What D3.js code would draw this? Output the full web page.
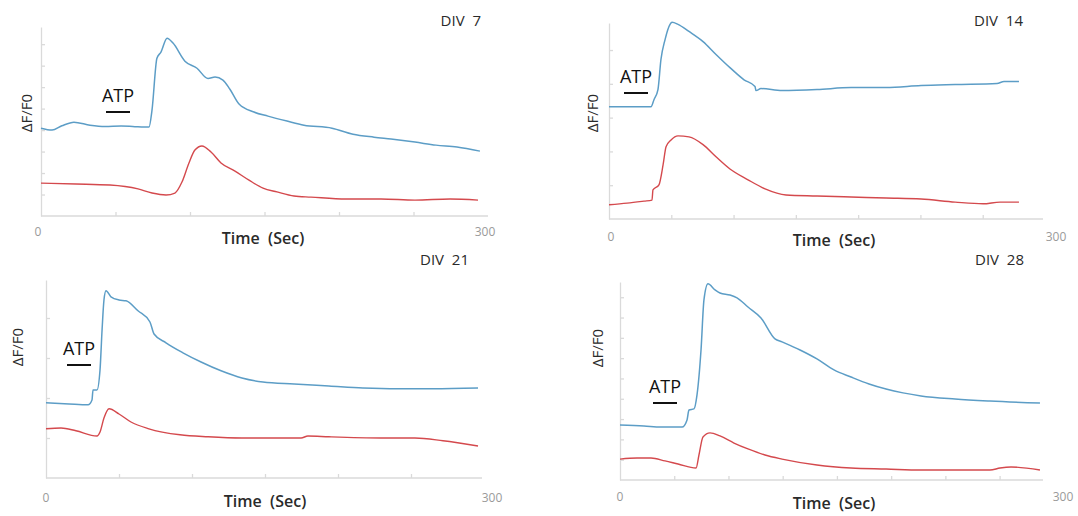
<!DOCTYPE html>
<html>
<head>
<meta charset="utf-8">
<script src="https://cdn.jsdelivr.net/npm/d3@7"></script>
<style>
  body { margin: 0; background: #fff; }
  svg { display: block; }
</style>
</head>
<body>
<script>
// traces: [time (s), dF/F0]
const div7Blue = [[0,4.09],[7.4,4.0],[14,4.2],[22.1,4.37],[32.9,4.23],[43,4.17],[53.7,4.19],[63,4.16],[72.5,4.14],[74.5,4.93],[77.8,7.35],[80.5,7.63],[84.6,8.28],[88.6,8.05],[96.6,7.21],[104.7,6.88],[112.1,6.4],[116.8,6.47],[122.1,6.33],[126.8,5.9],[132.9,5.21],[142.9,4.84],[152.3,4.65],[165.1,4.42],[176.5,4.23],[195.3,4.09],[209.4,3.81],[223.5,3.67],[234.9,3.58],[251,3.44],[265.1,3.3],[279.2,3.21],[294.6,3.02]];
const div7Red = [[0,1.53],[23.5,1.49],[46.3,1.44],[65.1,1.26],[74.5,1.07],[83.9,0.98],[89.9,1.07],[94.6,1.58],[99.3,2.47],[103.3,3.07],[108,3.26],[114.1,2.98],[120.8,2.47],[130.2,2.09],[139.6,1.67],[149,1.3],[158.4,1.12],[169.8,0.93],[181.2,0.88],[204.7,0.79],[228.2,0.79],[251,0.74],[274.5,0.79],[293.3,0.74]];

const div14Blue = [[0,3.32],[16.9,3.32],[33.7,3.32],[36.1,3.53],[39.3,3.83],[41.7,4.72],[45,5.31],[49,5.76],[50.6,5.82],[55.4,5.76],[64.2,5.55],[75.5,5.25],[85.9,4.87],[97.1,4.48],[108.4,4.12],[117.2,3.92],[118,3.8],[122,3.86],[138.9,3.8],[167,3.83],[194.3,3.89],[222.4,3.89],[250.5,3.95],[277.8,3.98],[311.5,4.01],[317.1,4.07],[329.1,4.07]];
const div14Red = [[0,0.42],[14.5,0.47],[28.1,0.53],[34.5,0.56],[35.3,0.86],[40.1,1.01],[43.4,1.6],[45.8,2.14],[49.8,2.34],[55.4,2.46],[64.2,2.43],[75.5,2.2],[85.9,1.84],[97.1,1.48],[111.6,1.16],[125.3,0.89],[142.1,0.71],[167,0.68],[194.3,0.65],[222.4,0.62],[250.5,0.59],[277.8,0.5],[300.2,0.45],[313.9,0.5],[329.1,0.5]];

const div21Blue = [[0,1.88],[15.8,1.85],[28.8,1.83],[31.5,1.95],[32.2,2.2],[34.9,2.2],[37,2.7],[38.4,3.7],[39.7,4.45],[41.1,4.68],[44.5,4.53],[50,4.45],[54.8,4.43],[63,4.18],[71.2,3.9],[74,3.6],[82.2,3.38],[93.8,3.13],[106.2,2.9],[119.9,2.68],[134.2,2.5],[148.6,2.4],[169.9,2.35],[193.8,2.3],[217.1,2.25],[241.1,2.23],[265.1,2.23],[295.9,2.25]];
const div21Red = [[0,1.23],[10.3,1.25],[20.5,1.18],[34.9,1.05],[37,1.15],[39.7,1.5],[43.2,1.73],[50,1.6],[58.2,1.4],[70.5,1.23],[91.8,1.08],[111,1.03],[134.2,1.0],[158.2,1.0],[174.7,1.0],[179.4,1.05],[193.8,1.03],[229.4,1.0],[252.7,1.0],[271.9,0.93],[295.9,0.8]];

const div28Blue = [[0,2.71],[22.1,2.66],[37.8,2.61],[57.2,2.61],[61.8,2.96],[63.6,3.45],[68.2,3.5],[71,4.19],[74.7,6.4],[77.4,8.87],[81.1,9.66],[87.6,9.36],[92.2,9.21],[101.4,9.11],[107.9,8.97],[118,8.52],[130,7.98],[142.9,6.95],[149.4,6.8],[166,6.4],[181.6,5.96],[197.3,5.42],[213,5.07],[229.6,4.73],[245.3,4.48],[260.9,4.29],[277.5,4.14],[308.9,3.99],[341.1,3.89],[387.2,3.79]];
const div28Red = [[0,1.03],[15.7,1.08],[28.6,1.08],[41.5,0.94],[53.5,0.79],[70.1,0.59],[72.8,1.23],[76.5,2.12],[83,2.32],[92.2,2.17],[105.1,1.82],[118,1.53],[133.7,1.23],[149.4,1.03],[181.6,0.74],[213,0.59],[245.3,0.54],[277.5,0.49],[308.9,0.49],[341.1,0.49],[350.4,0.59],[360.5,0.64],[387.2,0.49]];

const panelTitles = ['DIV  7', 'DIV  14', 'DIV  21', 'DIV  28'];
const xMax = [300, 350, 300, 390];
const yMax = [8.8, 5.8, 4.95, 9.75];
const yTicks = [[1,2,3,4,5,6,7,8], [1,2,3,4,5], [1,2,3,4], [1,2,3,4,5,6,7,8,9]];
const xTickStep = 50;

// layout of each panel in the page
const boxes = [
  {x0: 41, x1: 488, y0: 216, y1: 27, xEnd: 488, title: [481, 22], ylab: [28, 113], atp: [118, 102], time: [263, 244], lab0: 38, lab300: 485, labY: 236},
  {x0: 609, x1: 1045, y0: 219, y1: 23, xEnd: 1043, title: [1023, 22], ylab: [594, 113], atp: [636, 83], time: [834, 246], lab0: 611, lab300: 1056, labY: 241},
  {x0: 46, x1: 484, y0: 478, y1: 280, xEnd: 482, title: [469, 261], ylab: [19, 347], atp: [79, 355], time: [265, 507], lab0: 46, lab300: 492, labY: 502},
  {x0: 620, x1: 1043, y0: 480, y1: 282, xEnd: 1043, title: [1024, 261], ylab: [599, 348], atp: [665, 393], time: [834, 509], lab0: 620, lab300: 1063, labY: 501}
];

const blues = [div7Blue, div14Blue, div21Blue, div28Blue];
const reds = [div7Red, div14Red, div21Red, div28Red];

const svg = d3.select('body').append('svg')
    .attr('width', 1078)
    .attr('height', 516)
    .attr('font-family', 'Open Sans, sans-serif');

boxes.forEach((b, i) => {
  const x = d3.scaleLinear().domain([0, xMax[i]]).range([b.x0, b.x1]);
  const y = d3.scaleLinear().domain([0, yMax[i]]).range([b.y0, b.y1]);
  const g = svg.append('g');

  const xTicks = d3.range(xTickStep, xMax[i], xTickStep);

  g.append('g')
      .attr('transform', `translate(0,${b.y0})`)
      .call(d3.axisBottom(x).tickValues(xTicks).tickFormat('').tickSizeInner(-4).tickSizeOuter(0))
      .call(a => a.select('.domain').attr('d', `M${b.x0},0H${b.xEnd}`));

  g.append('g')
      .attr('transform', `translate(${b.x0},0)`)
      .call(d3.axisLeft(y).tickValues(yTicks[i]).tickFormat('').tickSizeInner(-4).tickSizeOuter(0));

  g.selectAll('.domain, .tick line').attr('stroke', '#dadada').attr('stroke-width', 1.3);

  const line = d3.line().curve(d3.curveMonotoneX).x(d => x(d[0])).y(d => y(d[1]));

  g.append('path')
      .datum(blues[i])
      .attr('fill', 'none')
      .attr('stroke', '#5c9dc6')
      .attr('stroke-width', 1.5)
      .attr('stroke-linejoin', 'round')
      .attr('d', line);

  g.append('path')
      .datum(reds[i])
      .attr('fill', 'none')
      .attr('stroke', '#d4494d')
      .attr('stroke-width', 1.4)
      .attr('stroke-linejoin', 'round')
      .attr('d', line);

  g.append('text')
      .attr('x', b.title[0]).attr('y', b.title[1])
      .attr('text-anchor', 'end')
      .attr('dominant-baseline', 'middle')
      .attr('font-size', 15)
      .attr('fill', '#2a2a2a')
      .style('white-space', 'pre')
      .text(panelTitles[i]);

  g.append('text')
      .attr('transform', `translate(${b.ylab[0]},${b.ylab[1]}) rotate(-90)`)
      .attr('text-anchor', 'middle')
      .attr('dominant-baseline', 'middle')
      .attr('font-size', 15)
      .attr('fill', '#2a2a2a')
      .text('ΔF/F0');

  g.append('text')
      .attr('x', b.atp[0]).attr('y', b.atp[1])
      .attr('text-anchor', 'middle')
      .attr('font-size', 18)
      .attr('fill', '#111')
      .text('ATP');

  g.append('line')
      .attr('x1', b.atp[0] - 12).attr('x2', b.atp[0] + 12)
      .attr('y1', b.atp[1] + 10).attr('y2', b.atp[1] + 10)
      .attr('stroke', '#111')
      .attr('stroke-width', 2);

  g.append('text')
      .attr('x', b.time[0]).attr('y', b.time[1])
      .attr('text-anchor', 'middle')
      .attr('font-size', 16)
      .attr('font-weight', 600)
      .attr('fill', '#2a2a2a')
      .style('white-space', 'pre')
      .text('Time  (Sec)');

  g.append('text')
      .attr('x', b.lab0).attr('y', b.labY)
      .attr('text-anchor', 'middle')
      .attr('font-size', 12)
      .attr('fill', '#9a9a9a')
      .text('0');

  g.append('text')
      .attr('x', b.lab300).attr('y', b.labY)
      .attr('text-anchor', 'middle')
      .attr('font-size', 12)
      .attr('fill', '#9a9a9a')
      .text('300');
});
</script>
</body>
</html>
